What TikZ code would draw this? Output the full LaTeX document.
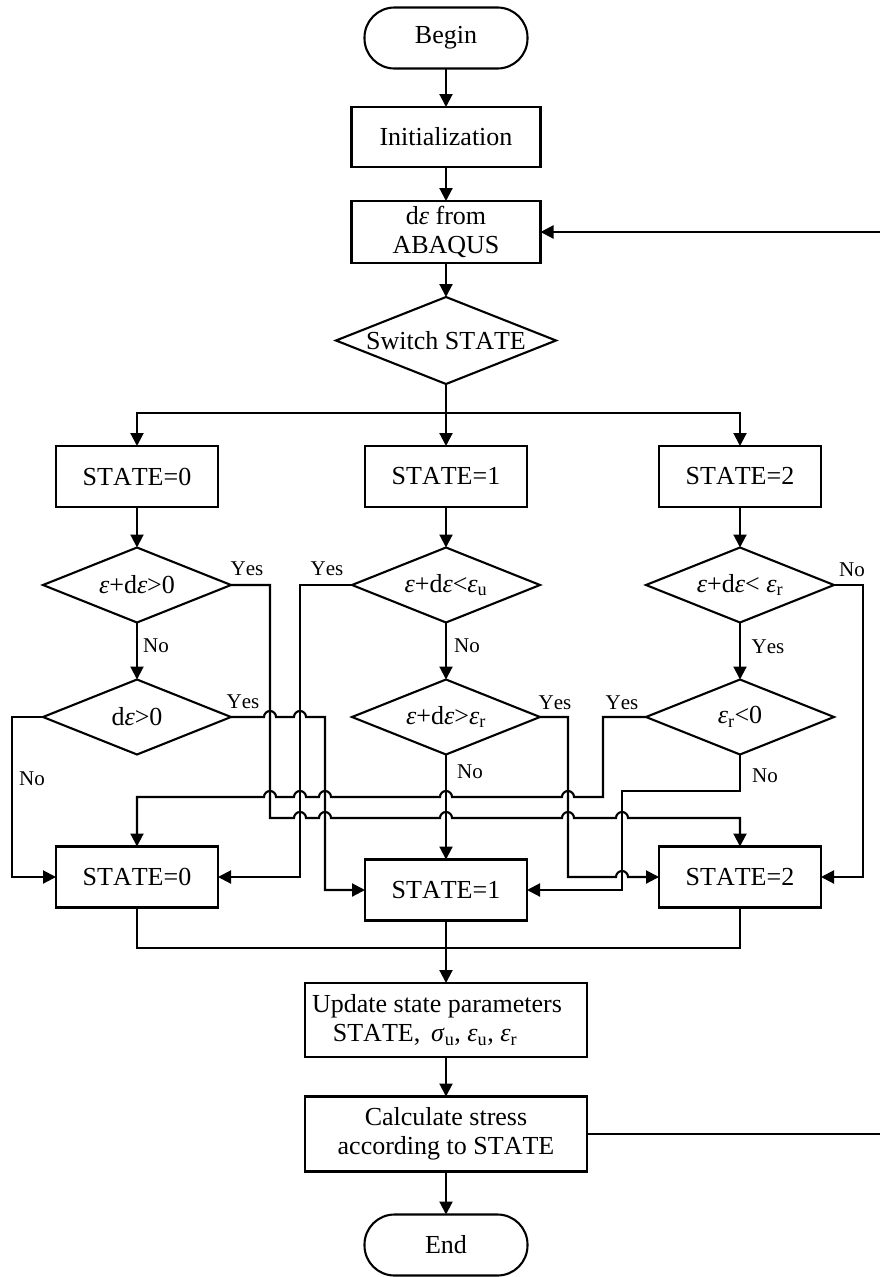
\documentclass[tikz,border=0pt]{standalone}
\usepackage{fontspec}
\setmainfont{Liberation Serif}[Kerning=Off]
\usetikzlibrary{arrows.meta,shapes.geometric}
\newcommand\mainsz{\fontsize{26}{29}\selectfont}
\newcommand\labsz{\fontsize{21}{24}\selectfont}
\newcommand\ep{\textit{ε}}
\begin{document}
\begin{tikzpicture}[x=1pt,y=-1pt,
  ln/.style={line width=2.1pt},
  arr/.style={ln,-{Triangle[length=13pt,width=13pt]}},
  box/.style={draw,ln,minimum width=162pt,minimum height=61pt,inner sep=0pt,outer sep=0pt,align=center,font=\mainsz},
  term/.style={box,rounded corners=30pt,minimum width=163pt,minimum height=61pt},
  dia/.style={draw,ln,diamond,minimum width=188pt,minimum height=75pt,inner sep=0pt,outer sep=0pt},
  dtxt/.style={font=\mainsz,inner sep=0pt},
  lab/.style={font=\labsz,inner sep=0pt}]
\useasboundingbox (0,0) rectangle (880,1277);

% top chain
\node[term] (begin) at (446,38) {Begin};
\node[box,minimum width=189pt,minimum height=60pt] (init) at (446,137) {Initialization};
\node[box,minimum width=189pt,minimum height=62pt] (de) at (446,232) {d\ep{} from\\ABAQUS};
\node[dia,minimum width=220pt,minimum height=87pt] (sw) at (446,340.5) {};
\node[dtxt] (swt) at (sw.center) {Switch STATE};

% first state row
\node[box] (S0) at (137,476.5) {STATE=0};
\node[box] (S1) at (446,476.5) {STATE=1};
\node[box] (S2) at (740,476.5) {STATE=2};

% diamonds row 1
\node[dia] (D0) at (137,585) {};
\node[dtxt] (D0t) at (D0.center) {\ep+d\ep>0};
\node[dia] (D1) at (446,585) {};
\node[dtxt] (D1t) at (D1.center) {\ep+d\ep<\ep\textsubscript{u}};
\node[dia] (D2) at (740,585) {};
\node[dtxt] (D2t) at (D2.center) {\ep+d\ep< \ep\textsubscript{r}};

% diamonds row 2
\node[dia] (D0b) at (137,717) {};
\node[dtxt] (D0bt) at (D0b.center) {d\ep>0};
\node[dia] (D1b) at (446,717) {};
\node[dtxt] (D1bt) at (D1b.center) {\ep+d\ep>\ep\textsubscript{r}};
\node[dia] (D2b) at (740,717) {};
\node[dtxt] (D2bt) at (D2b.center) {\ep\textsubscript{r}<0};

% bottom state row
\node[box] (S0b) at (137,877) {STATE=0};
\node[box] (S1b) at (446,890) {STATE=1};
\node[box] (S2b) at (740,877) {STATE=2};

% lower chain
\node[box,minimum width=282pt,minimum height=74pt] (up) at (446,1020)
  {Update state parameters\hspace*{18pt}\\STATE,\hspace{0.42em}\textit{σ}\textsubscript{u}, \ep\textsubscript{u}, \ep\textsubscript{r}\hspace*{42pt}};
\node[box,minimum width=282pt,minimum height=75pt] (calc) at (446,1134)
  {Calculate stress\\according to STATE};
\node[term] (end) at (446,1245) {End};

% labels
\node[lab] (l1) at (247,569) {Yes};
\node[lab] (l2) at (156,646) {No};
\node[lab] (l3) at (327,569) {Yes};
\node[lab] (l4) at (243,702) {Yes};
\node[lab] (l5) at (32,779) {No};
\node[lab] (l6) at (467,646) {No};
\node[lab] (l7) at (555,703) {Yes};
\node[lab] (l8) at (470,772) {No};
\node[lab] (l9) at (852,570) {No};
\node[lab] (l10) at (768,647) {Yes};
\node[lab] (l11) at (622,703) {Yes};
\node[lab] (l12) at (765,776) {No};

% straight connectors
\draw[arr] (begin) -- (init);
\draw[arr] (init) -- (de);
\draw[arr] (de) -- (sw);
\coordinate (br) at (446,413);
\draw[ln] (sw.south) -- (br);
\draw[arr] (br) -| (S0.north);
\draw[arr] (br) -| (S2.north);
\draw[arr] (br) -- (S1.north);
\draw[arr] (S0) -- (D0);
\draw[arr] (S1) -- (D1);
\draw[arr] (S2) -- (D2);
\draw[arr] (D0) -- (D0b);
\draw[arr] (D1) -- (D1b);
\draw[arr] (D2) -- (D2b);
\draw[arr] (D1b.south) -- (S1b.north);

% routed connectors with line hops
\draw[arr] (D0.east) -- (270,585) -- (270,818) -- (294,818)
  arc[start angle=180,end angle=0,radius=6pt] -- (319,818)
  arc[start angle=180,end angle=0,radius=6pt] -- (440,818)
  arc[start angle=180,end angle=0,radius=6pt] -- (562,818)
  arc[start angle=180,end angle=0,radius=6pt] -- (616,818)
  arc[start angle=180,end angle=0,radius=6pt] -- (740,818) -- (S2b.north);
\draw[arr] (D1.west) -- (300,585) -- (300,877) -- (S0b.east);
\draw[arr] (D0b.east) -- (264,717)
  arc[start angle=180,end angle=0,radius=6pt] -- (294,717)
  arc[start angle=180,end angle=0,radius=6pt] -- (325,717) -- (325,890) -- (S1b.west);
\draw[arr] (D0b.west) -- (12,717) -- (12,877) -- (S0b.west);
\draw[arr] (D1b.east) -- (568,717) -- (568,877) -- (616,877)
  arc[start angle=180,end angle=0,radius=6pt] -- (S2b.west);
\draw[arr] (D2.east) -- (863,585) -- (863,877) -- (S2b.east);
\draw[arr] (D2b.west) -- (603,717) -- (603,797) -- (574,797)
  arc[start angle=0,end angle=180,radius=6pt] -- (452,797)
  arc[start angle=0,end angle=180,radius=6pt] -- (331,797)
  arc[start angle=0,end angle=180,radius=6pt] -- (306,797)
  arc[start angle=0,end angle=180,radius=6pt] -- (276,797)
  arc[start angle=0,end angle=180,radius=6pt] -- (137,797) -- (S0b.north);
\draw[arr] (D2b.south) -- (740,791) -- (622,791) -- (622,890) -- (S1b.east);

% join and lower chain
\coordinate (jn) at (446,948);
\draw[ln] (S0b.south) |- (jn);
\draw[ln] (S2b.south) |- (jn);
\draw[arr] (S1b.south) -- (up.north);
\draw[arr] (up) -- (calc);
\draw[arr] (calc) -- (end);
\draw[arr] (calc.east) -- (881,1134) -- (881,232) -- (de.east);
\end{tikzpicture}
\end{document}
